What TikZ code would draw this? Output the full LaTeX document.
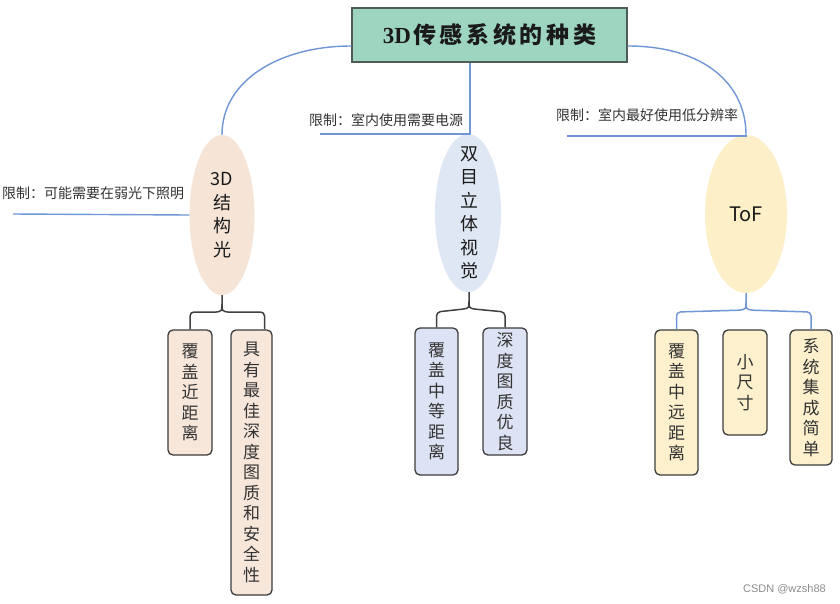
\documentclass[tikz,border=0pt]{standalone}
\usepackage{fontspec}
\usetikzlibrary{shapes.geometric,calc}
\setmainfont{Liberation Sans}
\newfontfamily\cjk{Noto Sans CJK SC}
\newfontfamily\cjkt[LetterSpace=16]{Noto Sans CJK SC}
\newfontfamily\serift{Liberation Serif}
\definecolor{lineblue}{HTML}{7096D6}
\definecolor{brkgray}{HTML}{404040}
\definecolor{fillA}{HTML}{F6E4D7}
\definecolor{fillB}{HTML}{DFE7F4}
\definecolor{fillC}{HTML}{FDF0C8}
\definecolor{boxA}{HTML}{F7E6DA}
\definecolor{boxB}{HTML}{DDE3F4}
\definecolor{boxC}{HTML}{FCF0CD}
\definecolor{boxborder}{HTML}{3C3C3C}
\definecolor{titlefill}{HTML}{9ED5C1}
\definecolor{titleborder}{HTML}{4F5B55}
\definecolor{txt}{HTML}{1A1A1A}
\definecolor{boxtxt}{HTML}{333333}
\definecolor{limtxt}{HTML}{333333}
\begin{document}
\begin{tikzpicture}[x=1pt,y=-1pt,
  conn/.style={draw=lineblue, line width=1.4pt},
  brk/.style={draw=brkgray, line width=1.5pt},
  brkb/.style={draw=lineblue, line width=1.5pt},
  ell/.style={ellipse, inner sep=0pt},
  etext/.style={inner sep=0pt, align=center, text=txt,
    font=\cjk\fontsize{18}{23.5}\selectfont},
  tbox/.style={draw=boxborder, line width=1.3pt, rounded corners=5pt, inner sep=0pt,
    align=center, text=boxtxt, font=\cjk\fontsize{17}{20.5}\selectfont},
  lim/.style={anchor=west, inner sep=0pt, text=limtxt,
    font=\cjk\fontsize{14}{16}\selectfont}]
\useasboundingbox[fill=white] (0,0) rectangle (840,603);

% title
\node[draw=titleborder, fill=titlefill, line width=1.2pt, minimum width=275pt,
  minimum height=54pt, inner sep=0pt, text=txt,
  font=\fontsize{23}{25}\selectfont] (title) at (489.5,35)
  {{\serift\bfseries 3D}\hspace{2pt}{\cjkt\bfseries 传感系统的种类}};

% ellipses
\node[ell, fill=fillA, minimum width=65pt, minimum height=160pt] (e1) at (222,215) {};
\node[etext] (t1) at (e1.center) {3D\\结\\构\\光};
\node[ell, fill=fillB, minimum width=66pt, minimum height=158pt] (e2) at (468,213) {};
\node[etext] (t2) at ($(e2.center)+(1,0)$) {双\\目\\立\\体\\视\\觉};
\node[ell, fill=fillC, minimum width=82pt, minimum height=158pt] (e3) at (746,214) {};
\node[etext, font=\cjk\fontsize{20}{24}\selectfont] (t3) at (e3.center) {ToF};

% limit labels
\node[lim] (l1) at (2,193) {限制：可能需要在弱光下照明};
\node[lim] (l2) at (309,120) {限制：室内使用需要电源};
\node[lim] (l3) at (556,115) {限制：室内最好使用低分辨率};

% boxes
\node[tbox, fill=boxA, minimum width=44pt, minimum height=125pt] (b11) at (190,392.5) {覆\\盖\\近\\距\\离};
\node[tbox, fill=boxA, minimum width=41pt, minimum height=265pt] (b12) at (251.5,462.5) {具\\有\\最\\佳\\深\\度\\图\\质\\和\\安\\全\\性};
\node[tbox, fill=boxB, minimum width=43pt, minimum height=147pt] (b21) at (436.5,401.5) {覆\\盖\\中\\等\\距\\离};
\node[tbox, fill=boxB, minimum width=44pt, minimum height=127pt] (b22) at (505,391.5) {深\\度\\图\\质\\优\\良};
\node[tbox, fill=boxC, minimum width=43pt, minimum height=145pt] (b31) at (676.5,402.5) {覆\\盖\\中\\远\\距\\离};
\node[tbox, fill=boxC, minimum width=44pt, minimum height=105pt] (b32) at (745,382.5) {小\\尺\\寸};
\node[tbox, fill=boxC, minimum width=42pt, minimum height=135pt] (b33) at (811,397.5) {系\\统\\集\\成\\简\\单};

% watermark
\node[anchor=east, inner sep=0pt, text=black!45, font=\fontsize{11}{13}\selectfont] (wm) at (826,589) {CSDN @wzsh88};

% main connectors
\coordinate (top2) at ($(e2.north)+(2,0)$);
\draw[conn] ($(title.west)+(0,11)$) .. controls (280,46) and (222,80) .. (e1.north);
\draw[conn] ($(title.east)+(0,11)$) .. controls (705,46) and (746,85) .. (e3.north);
\draw[conn] (top2 |- title.south) -- (top2);

% limit lines
\coordinate (le1) at (13,214);
\coordinate (le2) at (320,134);
\coordinate (le3) at (567,136);
\draw[conn] (e1.west) -- (le1);
\draw[conn] (top2) -- (top2 |- le2) -- (le2);
\draw[conn] (e3.north) -- (e3.north |- le3) -- (le3);

% brackets
\coordinate (h) at (0,312);
\coordinate (b12top) at ($(b12.north)+(13,0)$);
\coordinate (a1) at ($(e1.south)+(0,9)$);
\coordinate (a2) at ($(e2.south)+(1,9)$);
\coordinate (a3) at ($(e3.south)+(0,9)$);
\draw[brk] (e1.south) -- (a1) .. controls ($(a1)+(0,7)$) .. ($(a1)+(-7,8)$)
  [rounded corners=4pt] -- (b11.north |- h) -- (b11.north);
\draw[brk] (a1) .. controls ($(a1)+(0,7)$) .. ($(a1)+(7,8)$)
  [rounded corners=4pt] -- (b12top |- h) -- (b12top);

\draw[brk] ($(e2.south)+(1,0)$) -- (a2) .. controls ($(a2)+(0,7)$) .. ($(a2)+(-7,8)$)
  [rounded corners=4pt] -- (b21.north |- h) -- (b21.north);
\draw[brk] (a2) .. controls ($(a2)+(0,7)$) .. ($(a2)+(7,8)$)
  [rounded corners=4pt] -- (b22.north |- h) -- (b22.north);

\draw[brkb] (e3.south) -- (a3) .. controls ($(a3)+(0,7)$) .. ($(a3)+(-7,8)$)
  [rounded corners=4pt] -- (b31.north |- h) -- (b31.north);
\draw[brkb] (a3) .. controls ($(a3)+(0,7)$) .. ($(a3)+(7,8)$)
  [rounded corners=4pt] -- (b33.north |- h) -- (b33.north);
\end{tikzpicture}
\end{document}
